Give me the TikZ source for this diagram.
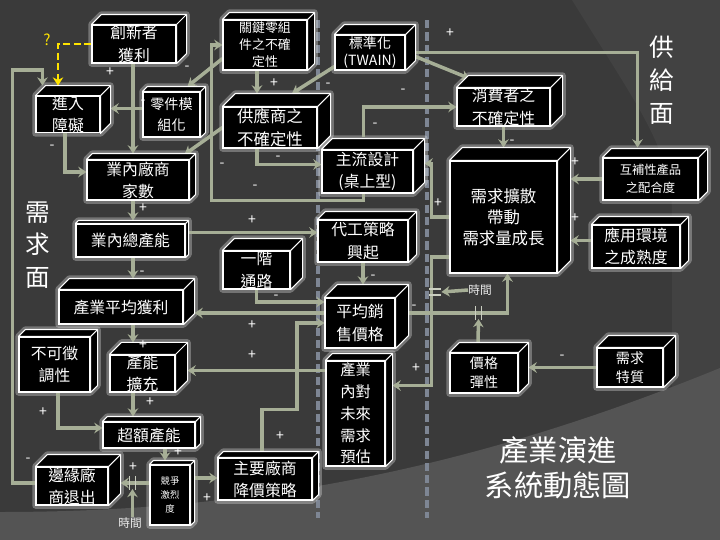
\documentclass[tikz,border=0pt]{standalone}
\usepackage{fontspec}
\setmainfont{Noto Sans CJK TC}
\usetikzlibrary{arrows.meta, calc}
\usepackage{xcolor}
\definecolor{cinzafundo}{RGB}{58,58,58}
\definecolor{cinzamedio}{RGB}{66,66,66}
\definecolor{cinzaclaro}{RGB}{84,84,84}
\definecolor{meuverde}{RGB}{166,174,150}
\definecolor{trilho}{RGB}{126,134,148}
\definecolor{duvida}{RGB}{255,228,0}
\pgfdeclarelayer{fundo}
\pgfdeclarelayer{ligacoes}
\pgfsetlayers{fundo,ligacoes,main}
\tikzset{sz/.style 2 args={minimum width=#1*0.3mm, minimum height=#2*0.3mm}}

\begin{document}
\begin{tikzpicture}[x=0.3mm, y=-0.3mm,
    box/.style={draw=white, fill=black, text=white, line width=0.9pt,
        align=center, inner sep=0pt, font=\fontsize{13.5}{19}\selectfont},
    face/.style={draw=white, fill=black, line width=0.9pt, line join=round},
    halo/.style={draw=white!75!gray, line width=5.5pt, opacity=0.35, line join=round},
    arrow/.style={-{Stealth[length=7pt,width=9pt]}, line width=3pt, color=meuverde},
    marca/.style={line width=1.4pt, color=meuverde!60!white},
    sinal/.style={text=white, font=\fontsize{12}{12}\selectfont, inner sep=0pt},
    tempo/.style={text=white!85!gray, font=\fontsize{10}{10}\selectfont, inner sep=0pt},
    lado/.style={text=white, align=center, font=\fontsize{21}{28}\selectfont},
    titulo/.style={text=white, align=center, font=\fontsize{25}{30}\selectfont}
  ]
  \useasboundingbox (0,0) rectangle (720,540);
  \begin{pgfonlayer}{fundo}
    \fill[cinzafundo] (0,0) rectangle (720,540);
    \fill[cinzamedio] (572,0) .. controls (640,110) and (672,150) .. (672,215)
      -- (672,395) -- (720,372) -- (720,0) -- cycle;
    \fill[cinzaclaro] (0,512) .. controls (250,512) and (470,470) .. (720,368)
      -- (720,540) -- (0,540) -- cycle;
    \draw[trilho, line width=4pt, dash pattern=on 7pt off 3.5pt] (318,20) -- (318,518);
    \draw[trilho, line width=4pt, dash pattern=on 7pt off 3.5pt] (427,20) -- (427,518);
  \end{pgfonlayer}

  \node[box, sz={84}{38}] (inno) at (134,44) {創新者\\獲利};
  \node[box, sz={64}{35}] (barr) at (68,114.5) {進入\\障礙};
  \node[box, sz={57}{45}, font=\fontsize{12}{18}\selectfont] (modu) at (171.5,114.5) {零件模\\組化};
  \node[box, sz={84}{50}, font=\fontsize{11}{14.5}\selectfont] (keyp) at (265,45) {關鍵零組\\件之不確\\定性};
  \node[box, sz={70}{35}, font=\fontsize{12}{15}\selectfont] (twain) at (370,52.5) {標準化\\(TWAIN)};
  \node[box, sz={94}{41}, font=\fontsize{14}{19}\selectfont] (supp) at (270,127.5) {供應商之\\不確定性};
  \node[box, sz={93}{38}] (cons) at (503.5,107) {消費者之\\不確定性};
  \node[box, sz={91}{43}] (dom) at (367.5,171.5) {主流設計\\(桌上型)};
  \node[box, sz={102}{40}] (firms) at (138,180) {業內廠商\\家數};
  \node[box, sz={109}{33}] (cap) at (130.5,240.5) {業內總產能};
  \node[box, sz={124}{34}] (prof) at (121,307) {產業平均獲利};
  \node[box, sz={67}{38}] (chan) at (256.5,270) {一階\\通路};
  \node[box, sz={90}{42}] (oem) at (363,241) {代工策略\\興起};
  \node[box, sz={70}{50}] (price) at (360,323) {平均銷\\售價格};
  \node[box, sz={107}{112}, font=\fontsize{14}{18}\selectfont] (diff) at (503.5,217) {需求擴散\\帶動\\需求量成長};
  \node[box, sz={95}{42}, font=\fontsize{10.5}{15}\selectfont] (compl) at (650.5,179) {互補性產品\\之配合度};
  \node[box, sz={88}{43}] (env) at (636,246.5) {應用環境\\之成熟度};
  \node[box, sz={71}{55}] (immob) at (54.5,364.5) {不可徵\\調性};
  \node[box, sz={65}{37}] (expa) at (142.5,373.5) {產能\\擴充};
  \node[box, sz={92}{26}] (exc) at (149,435) {超額產能};
  \node[box, sz={72}{38}] (exit) at (72,486) {邊緣廠\\商退出};
  \node[box, sz={40}{60}, font=\fontsize{8}{12}\selectfont] (riv) at (170,495) {競爭\\激烈\\度};
  \node[box, sz={94}{42}] (cut) at (265,479) {主要廠商\\降價策略};
  \node[box, sz={59}{105}, font=\fontsize{13}{18.5}\selectfont] (fcst) at (355.5,413.5) {產業\\內對\\未來\\需求\\預估};
  \node[box, sz={68}{40}, font=\fontsize{12}{16}\selectfont] (elas) at (484,373) {價格\\彈性};
  \node[box, sz={66}{39}, font=\fontsize{12}{16}\selectfont] (trait) at (630,367.5) {需求\\特質};

  \foreach \n/\d in {inno/10, barr/10, modu/5, keyp/7, twain/10, supp/13, cons/12,
      dom/11, firms/6, cap/3, prof/11, chan/12, oem/8, price/13, diff/13, compl/9,
      env/8, immob/7, expa/12, exc/5, exit/12, riv/4, cut/6, fcst/7, elas/10, trait/12}{
    \filldraw[face] (\n.north west) -- ++(\d,-\d) -- ($(\n.north east)+(\d,-\d)$)
      -- ($(\n.south east)+(\d,-\d)$) -- (\n.south east) -- (\n.north east) -- cycle;
    \draw[face] (\n.north east) -- ++(\d,-\d);
    \begin{pgfonlayer}{fundo}
      \draw[halo] (\n.south west) -- (\n.north west) -- ++(\d,-\d) -- ($(\n.north east)+(\d,-\d)$)
        -- ($(\n.south east)+(\d,-\d)$) -- (\n.south east) -- cycle;
    \end{pgfonlayer}
  }

  \node[lado] (oferta) at (662,80) {供\\給\\面};
  \node[lado] (demanda) at (38,245) {需\\求\\面};
  \node[titulo] (titulo) at (558,468) {產業演進\\系統動態圖};
  \node[tempo] (t1) at (480,290) {時間};
  \node[tempo] (t2) at (130,523) {時間};
  \node[text=duvida, font=\fontsize{13}{13}\selectfont] (q) at (47,40) {?};

  \coordinate (t1j) at ($(diff.west)+(-16,75)$);
  \coordinate (ej) at ($(price.east)+(83,-10)$);
  \coordinate (t2j) at ($(riv.west)+(-17,-12)$);

  \begin{pgfonlayer}{ligacoes}
    \draw[arrow, color=duvida, line width=2.2pt, dash pattern=on 6pt off 3pt]
      (inno.west) -| ($(barr.north)+(-10,-10)$);
    \draw[arrow] ($(inno.south)+(-1,0)$) -- ($(firms.north)+(-5,-6)$);
    \draw[arrow] ($(modu.west)+(0,-6)$) -- ($(barr.east)+(10,-6)$);
    \draw[arrow] ($(keyp.south west)+(0,-12)$) -- ($(modu.north)+(16,-5)$);
    \draw[arrow] ($(keyp.south)+(-8,0)$) -- ($(supp.north)+(-13,-13)$);
    \draw[arrow] ($(twain.south west)+(0,-4)$) -- ($(supp.north)+(22,-13)$);
    \draw[arrow] (twain.east) -- ($(cons.north west)+(13,-9)$);
    \draw[arrow] (twain.east) -| ($(compl.north)+(-13,-10)$);
    \draw[arrow] ($(supp.south)+(-13,0)$) |- ($(dom.west)+(0,-7)$);
    \draw[arrow] (supp.west) -- ($(firms.north east)+(-5,-5)$);
    \draw[arrow] ($(dom.south)+(-4,0)$) -- ++(0,7) -| ($(keyp.west)+(-11,0)$) -- (keyp.west);
    \draw[arrow] ($(dom.north)+(-4,-12)$) |- (cons.west);
    \draw[arrow] (cons.south) -- ($(diff.north)+(0,-13)$);
    \draw[arrow] (compl.west) -- ($(compl.west -| diff.east)+(13,0)$);
    \draw[arrow] ($(env.west)+(0,-6)$) -- ($(env.west -| diff.east)+(13,-6)$);
    \draw[arrow] (diff.west) -- ++(-18,0) |- ($(dom.east)+(11,-8)$);
    \draw[arrow] ($(diff.west)+(0,40)$) -- ++(-18,0) |- ($(fcst.east)+(7,-28)$);
    \draw[arrow] (t1.west) -- ($(t1j)+(8,0)$);
    \draw[arrow] ($(price.east)+(0,-10)$) -| ($(diff.south)+(4,0)$);
    \draw[arrow] ($(elas.north)+(-6,-10)$) -- ($(ej)+(0,6)$);
    \draw[arrow] (trait.west) -- ($(trait.west -| elas.east)+(10,0)$);
    \draw[arrow] (oem.south) -- ($(price.north)+(3,-13)$);
    \draw[arrow] (chan.south) |- ($(price.west)+(0,-21)$);
    \draw[arrow] ($(cap.east)+(3,-8)$) -- ($(cap.east -| oem.west)+(0,-8)$);
    \draw[arrow] ($(price.west)+(0,-10)$) -- ($(price.west -| prof.east)+(11,-10)$);
    \draw[arrow] ($(firms.south)+(-5,0)$) -- ($(cap.north)+(2.5,-3)$);
    \draw[arrow] ($(cap.south)+(2.5,0)$) -- ($(prof.north)+(12,-11)$);
    \draw[arrow] ($(prof.south)+(12,0)$) -- ($(expa.north)+(-9.5,-12)$);
    \draw[arrow] ($(expa.south)+(-9.5,0)$) -- ($(exc.north)+(-16,-5)$);
    \draw[arrow] ($(fcst.west)+(0,-43)$) -- ($(fcst.west -| expa.east)+(12,-43)$);
    \draw[arrow] ($(immob.south)+(3.5,0)$) |- ($(exc.west)+(0,-7)$);
    \draw[arrow] ($(exc.south)+(16,0)$) -- ($(riv.north)+(-5,-4)$);
    \draw[arrow] ($(riv.west)+(0,-12)$) -- ($(riv.west -| exit.east)+(12,-12)$);
    \draw[arrow] (t2.north -| t2j) -- ($(t2j)+(0,6)$);
    \draw[arrow] ($(riv.east)+(4,-17)$) -- ($(cut.west)+(0,-1)$);
    \draw[arrow] ($(cut.north)+(-3,-6)$) -- ++(0,-42) -- ++(35,0) |- (price.west);
    \draw[arrow] ($(exit.west)+(0,-3)$) -- ++(-23,0) -- ++(0,-413) -- ++(30,0)
      -- ($(barr.north west)+(7,-10)$);
    \draw[arrow] ($(barr.south)+(-3,0)$) |- ($(firms.west)+(0,-8)$);
    % marcas de atraso
    \draw[marca] ($(t1j)+(-4,-3)$) -- ++(12,0) ($(t1j)+(-4,3)$) -- ++(12,0);
    \draw[marca] ($(ej)+(-3,-7)$) -- ++(0,14) ($(ej)+(3,-7)$) -- ++(0,14);
    \draw[marca] ($(t2j)+(-3,-7)$) -- ++(0,14) ($(t2j)+(3,-7)$) -- ++(0,14);
  \end{pgfonlayer}

  \foreach \x/\y/\s [count=\i] in {110/72/+, 143/102/-, 187/68/-, 274/83/+, 328/85/-,
      450/33/+, 403/91/-, 375/125/-, 512/142/-, 575/162/+, 575/218/+, 222/165/-,
      278/158/-, 255/187/-, 52/147/-, 438/203/+, 414/307/-, 416/368/+, 373/277/-,
      276/297/-, 252/220/+, 252/325/+, 143/208/+, 142/273/-, 143/345/+, 150/402/+,
      252/355/+, 43/412/+, 178/452/+, 133/467/+, 207/498/+, 280/436/+, 28/460/-,
      562/357/-}
    \node[sinal] (s\i) at (\x,\y) {\s};
\end{tikzpicture}
\end{document}
